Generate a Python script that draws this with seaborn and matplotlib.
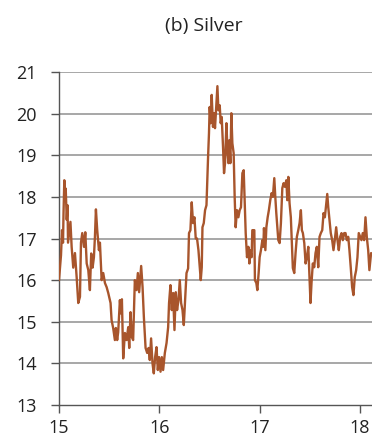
import matplotlib
matplotlib.use("Agg")
import matplotlib.pyplot as plt
import seaborn as sns
import pandas as pd

# Silver price (USD/oz), time in years since 2000
years = [
    15.000, 15.010, 15.020, 15.030, 15.040, 15.045, 15.053, 15.060, 15.067, 15.077,
    15.085, 15.090, 15.100, 15.114, 15.126, 15.142, 15.159, 15.176, 15.192, 15.209,
    15.219, 15.232, 15.249, 15.262, 15.276, 15.292, 15.308, 15.321, 15.335, 15.348,
    15.358, 15.368, 15.381, 15.398, 15.408, 15.425, 15.441, 15.458, 15.475, 15.491,
    15.514, 15.524, 15.540, 15.557, 15.567, 15.580, 15.590, 15.607, 15.617, 15.627,
    15.640, 15.657, 15.674, 15.690, 15.700, 15.713, 15.726, 15.739, 15.756, 15.773,
    15.786, 15.799, 15.819, 15.833, 15.846, 15.863, 15.879, 15.893, 15.905, 15.918,
    15.932, 15.945, 15.958, 15.972, 15.985, 15.998, 16.012, 16.025, 16.038, 16.055,
    16.072, 16.088, 16.097, 16.111, 16.124, 16.137, 16.151, 16.164, 16.177, 16.191,
    16.204, 16.217, 16.231, 16.244, 16.257, 16.271, 16.287, 16.296, 16.310, 16.323,
    16.336, 16.350, 16.363, 16.376, 16.390, 16.403, 16.413, 16.423, 16.430, 16.443,
    16.456, 16.470, 16.486, 16.495, 16.502, 16.512, 16.522, 16.535, 16.545, 16.555,
    16.569, 16.579, 16.589, 16.602, 16.612, 16.622, 16.635, 16.645, 16.655, 16.669,
    16.679, 16.689, 16.698, 16.708, 16.718, 16.728, 16.741, 16.751, 16.761, 16.774,
    16.788, 16.801, 16.814, 16.828, 16.841, 16.851, 16.861, 16.874, 16.888, 16.898,
    16.907, 16.920, 16.927, 16.947, 16.953, 16.967, 16.977, 16.990, 17.000, 17.013,
    17.027, 17.037, 17.043, 17.057, 17.067, 17.080, 17.092, 17.106, 17.119, 17.132,
    17.146, 17.156, 17.166, 17.176, 17.186, 17.199, 17.212, 17.226, 17.239, 17.252,
    17.266, 17.276, 17.286, 17.298, 17.311, 17.321, 17.331, 17.345, 17.358, 17.371,
    17.385, 17.398, 17.411, 17.421, 17.431, 17.445, 17.458, 17.471, 17.485, 17.497,
    17.507, 17.517, 17.530, 17.544, 17.557, 17.570, 17.584, 17.597, 17.610, 17.624,
    17.637, 17.650, 17.664, 17.674, 17.684, 17.696, 17.709, 17.723, 17.736, 17.749,
    17.763, 17.776, 17.789, 17.803, 17.816, 17.829, 17.843, 17.856, 17.869, 17.883,
    17.895, 17.908, 17.922, 17.935, 17.948, 17.962, 17.975, 17.988, 18.002, 18.015,
    18.028, 18.042, 18.055, 18.068, 18.082, 18.094, 18.111,
]
silver = [
    16.00, 16.30, 16.60, 17.20, 16.90, 17.60, 18.40, 18.00, 18.20, 17.45,
    17.80, 16.90, 17.10, 17.40, 16.80, 16.30, 16.65, 16.07, 15.45, 15.60,
    16.90, 17.13, 16.80, 17.15, 16.40, 16.24, 15.76, 16.64, 16.30, 16.55,
    17.03, 17.70, 17.20, 16.72, 16.90, 16.00, 16.17, 15.93, 15.83, 15.69,
    15.45, 15.04, 14.85, 14.56, 14.85, 14.56, 14.75, 15.52, 15.20, 15.54,
    14.12, 14.73, 14.56, 14.87, 14.37, 15.23, 14.63, 14.56, 16.00, 15.76,
    16.17, 15.71, 16.34, 15.83, 15.11, 14.37, 14.25, 14.37, 14.08, 14.60,
    14.00, 13.76, 14.15, 14.39, 13.84, 14.15, 13.80, 14.15, 13.84, 14.25,
    14.49, 14.87, 15.45, 15.88, 15.28, 15.69, 14.80, 15.71, 15.28, 15.52,
    16.00, 15.45, 15.28, 14.92, 15.52, 16.17, 16.28, 17.13, 17.20, 17.87,
    17.37, 17.51, 17.00, 17.00, 16.72, 16.31, 16.00, 16.31, 17.27, 17.37,
    17.68, 17.80, 18.96, 19.53, 20.16, 19.77, 20.45, 19.68, 20.01, 19.65,
    20.25, 20.66, 20.08, 20.20, 19.77, 19.92, 19.20, 18.57, 18.81, 19.77,
    19.12, 18.81, 19.36, 18.81, 20.01, 19.29, 19.05, 18.00, 17.27, 17.68,
    17.51, 17.68, 17.75, 18.57, 18.64, 17.92, 17.13, 16.55, 16.80, 16.40,
    16.72, 16.55, 17.20, 17.20, 16.00, 15.93, 15.76, 16.17, 16.55, 16.72,
    16.96, 16.80, 17.25, 16.72, 17.27, 17.51, 17.68, 17.92, 18.09, 18.00,
    18.45, 18.00, 17.61, 17.27, 16.96, 16.89, 17.37, 18.21, 18.33, 18.24,
    18.40, 17.92, 18.48, 17.85, 17.51, 16.89, 16.29, 16.17, 16.65, 17.04,
    17.20, 17.37, 17.68, 17.20, 17.13, 16.89, 16.40, 16.55, 16.80, 16.07,
    15.45, 15.93, 16.40, 16.31, 16.65, 16.80, 16.31, 17.04, 17.13, 17.20,
    17.61, 17.51, 17.85, 18.07, 17.75, 17.44, 17.13, 16.96, 16.72, 16.96,
    17.27, 16.96, 16.72, 17.04, 17.13, 16.96, 17.13, 17.13, 16.96, 17.04,
    16.72, 16.31, 15.83, 15.64, 16.07, 16.24, 16.55, 17.13, 17.04, 16.96,
    17.13, 16.96, 17.51, 17.04, 16.72, 16.24, 16.65,
]
x_ticks = [15, 16, 17, 18]
y_ticks = [13, 14, 15, 16, 17, 18, 19, 20, 21]
title = "(b) Silver"

sns.set_theme(style="white")
plt.rcParams["font.family"] = ["Open Sans", "DejaVu Sans"]

df = pd.DataFrame({"year": years, "price": silver})

fig = plt.figure(figsize=(3.72, 4.37), dpi=100)
ax = fig.add_axes([59 / 372, 1 - 405 / 437, 1 - 59 / 372, (405 - 72) / 437])

sns.lineplot(data=df, x="year", y="price", ax=ax, color="#A8552C",
             linewidth=1.7, zorder=3)

ax.set_xlim(15, 18.12)
ax.set_ylim(13, 21)
ax.set_xticks(x_ticks)
ax.set_yticks(y_ticks)
ax.set_xticklabels([str(t) for t in x_ticks])
ax.set_yticklabels([str(t) for t in y_ticks])
ax.set_xlabel("")
ax.set_ylabel("")

for v in y_ticks[1:]:
    ax.axhline(v, color="#a0a0a0", linewidth=1.3, zorder=1)

for side in ("top", "right"):
    ax.spines[side].set_visible(False)
for side in ("left", "bottom"):
    ax.spines[side].set_color("#555555")
    ax.spines[side].set_linewidth(1.0)

ax.tick_params(axis="y", which="major", direction="out", length=6, width=1,
               color="#555555", labelsize=13, labelcolor="#222222", pad=10,
               left=True)
ax.tick_params(axis="x", which="major", direction="out", length=6, width=1,
               color="#555555", labelsize=13, labelcolor="#222222", pad=4,
               bottom=True)

fig.text(204 / 372, 1 - 26 / 437, title, ha="center", va="center",
         fontsize=14, color="#222222")

fig.savefig("out.png", dpi=100)
